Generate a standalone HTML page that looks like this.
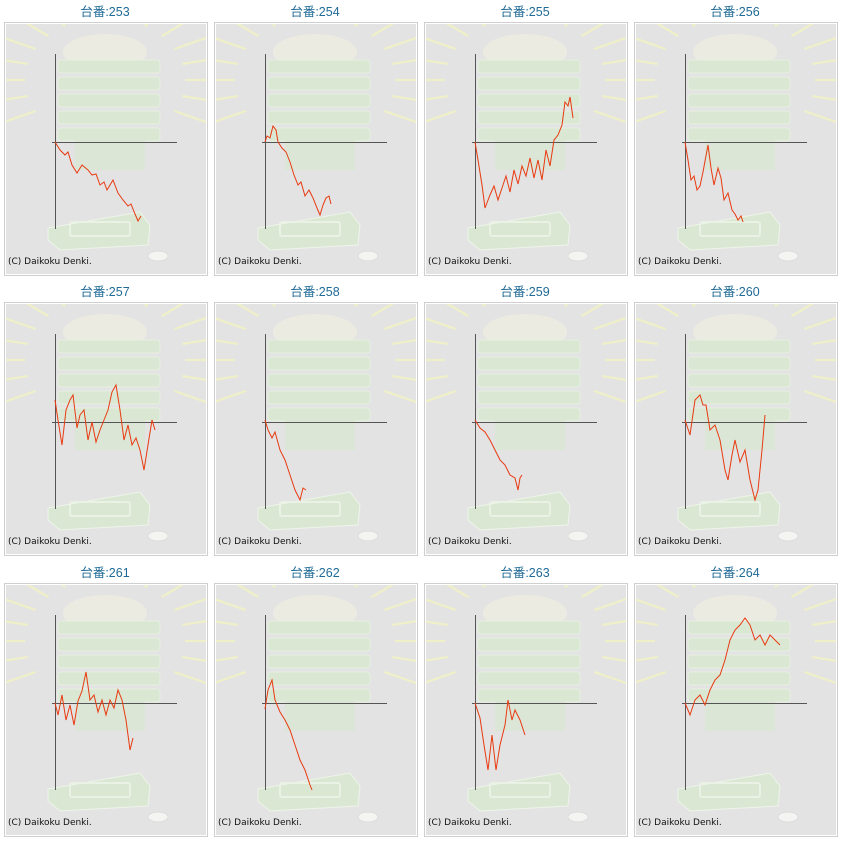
<!DOCTYPE html>
<html><head><meta charset="utf-8">
<style>
html,body{margin:0;padding:0;background:#fff;width:843px;height:841px;overflow:hidden}
svg{display:block}
</style></head>
<body>
<svg id="s" width="843" height="841" xmlns="http://www.w3.org/2000/svg"></svg>
<script>
const s=document.getElementById('s');
const ox=[0,210,420,630], oy=[0,280,561];
const nums=[253,254,255,256,257,258,259,260,261,262,263,264];
const L={
253:[[55,142],[60,150],[65,155],[68,152],[72,165],[77,173],[82,165],[88,170],[92,175],[96,174],[100,185],[104,182],[107,190],[113,180],[118,193],[123,200],[128,206],[131,204],[135,214],[138,221],[141,216]],
254:[[55,142],[57,136],[60,138],[63,126],[66,130],[68,142],[72,148],[76,152],[80,162],[84,175],[88,185],[91,182],[95,196],[99,190],[103,198],[107,208],[110,215],[113,205],[116,198],[119,196],[121,204]],
255:[[55,142],[58,160],[62,185],[65,208],[70,195],[74,186],[78,200],[82,188],[86,176],[90,192],[94,170],[98,184],[102,166],[106,176],[110,158],[114,178],[118,160],[122,180],[126,150],[130,166],[134,140],[138,135],[142,125],[145,102],[148,106],[150,97],[153,118]],
256:[[55,142],[58,160],[61,180],[64,176],[67,190],[70,186],[73,172],[78,145],[81,168],[84,185],[88,168],[91,178],[94,200],[98,193],[102,210],[105,214],[108,220],[111,216],[113,222]],
257:[[55,120],[58,140],[62,165],[66,130],[70,120],[73,115],[77,148],[80,135],[84,130],[88,160],[92,142],[96,162],[100,150],[104,140],[108,130],[112,112],[116,105],[120,130],[124,160],[128,145],[132,165],[136,158],[140,170],[144,190],[148,165],[152,140],[155,150]],
258:[[55,140],[58,150],[62,158],[65,152],[70,170],[75,180],[80,195],[85,210],[90,220],[93,208],[96,210]],
259:[[55,140],[60,148],[65,152],[70,160],[75,170],[80,180],[85,185],[90,195],[95,198],[98,210],[100,198],[102,195]],
260:[[55,140],[60,155],[65,120],[70,115],[73,125],[76,125],[80,150],[85,145],[90,160],[95,190],[98,200],[102,175],[105,160],[110,182],[115,170],[120,200],[125,220],[128,210],[132,170],[135,135]],
261:[[55,142],[58,154],[62,134],[66,159],[70,144],[74,164],[78,140],[82,130],[86,111],[90,139],[94,134],[98,151],[102,139],[106,154],[110,139],[114,147],[118,129],[122,139],[126,159],[130,189],[133,177]],
262:[[55,148],[58,129],[62,119],[65,139],[70,151],[75,159],[80,169],[85,184],[90,199],[95,209],[100,224],[102,229]],
263:[[55,142],[60,157],[64,184],[68,209],[72,174],[76,209],[80,184],[85,164],[88,139],[92,159],[95,149],[100,159],[105,174]],
264:[[55,142],[60,154],[65,139],[70,134],[75,144],[80,129],[85,119],[90,114],[95,99],[100,79],[105,69],[110,64],[115,57],[120,64],[125,79],[130,74],[135,84],[140,74],[145,79],[150,84]]
};
let h='';
const rays=[];
for(let a=0;a<360;a+=15){const r=a*Math.PI/180;rays.push([Math.cos(r),Math.sin(r)]);}
nums.forEach((n,i)=>{
 const x=ox[i%4], y=oy[Math.floor(i/4)];
 h+=`<g transform="translate(${x},${y})">`;
 h+=`<text x="105" y="16" text-anchor="middle" font-family="Liberation Sans,Noto Sans CJK JP,sans-serif" font-size="12.5" fill="#1f6a96">台番:${n}</text>`;
 h+=`<rect x="4.5" y="22.5" width="203" height="253" fill="#fff" stroke="#cfcfcf"/>`;
 h+=`<rect x="6" y="24" width="200" height="250" fill="#e3e3e3"/>`;
 h+=`<clipPath id="c${n}"><rect x="6" y="24" width="200" height="250"/></clipPath><g clip-path="url(#c${n})">`;
 rays.forEach(([c,sn])=>{if(sn<0.6) h+=`<line x1="${105+c*80}" y1="${80+sn*62}" x2="${105+c*160}" y2="${80+sn*110}" stroke="#f0f0c8" stroke-width="2.2"/>`;});
 h+=`<ellipse cx="105" cy="52" rx="42" ry="18" fill="#ecebe2"/>`;
 for(let k=0;k<5;k++) h+=`<rect x="58" y="${60+k*17}" width="102" height="13" rx="3" fill="#d9e7d3" stroke="#e6efe2"/>`;
 h+=`<rect x="75" y="140" width="70" height="30" fill="#dce6d7"/>`;
 h+=`<path d="M48 228 L140 212 L150 225 L148 245 L60 250 L48 240Z" fill="#dae8d3" stroke="#eef4ea"/>`;
 h+=`<rect x="70" y="222" width="60" height="14" rx="2" fill="none" stroke="#eaf2e6" stroke-width="2"/>`;
 h+=`<ellipse cx="158" cy="256" rx="10" ry="5" fill="#f4f4f2" stroke="#dcdcdc"/>`;
 h+=`</g>`;
 h+=`<line x1="55.5" y1="54" x2="55.5" y2="229" stroke="#555" stroke-width="1"/>`;
 h+=`<line x1="52" y1="142.5" x2="177" y2="142.5" stroke="#555" stroke-width="1"/>`;
 h+=`<polyline points="${L[n].map(p=>p.join(',')).join(' ')}" fill="none" stroke="#e83a10" stroke-width="1"/>`;
 h+=`<text x="8" y="264" font-family="DejaVu Sans,sans-serif" font-size="9" fill="#111">(C) Daikoku Denki.</text>`;
 h+=`</g>`;
});
s.innerHTML=h;
</script>
</body></html>
